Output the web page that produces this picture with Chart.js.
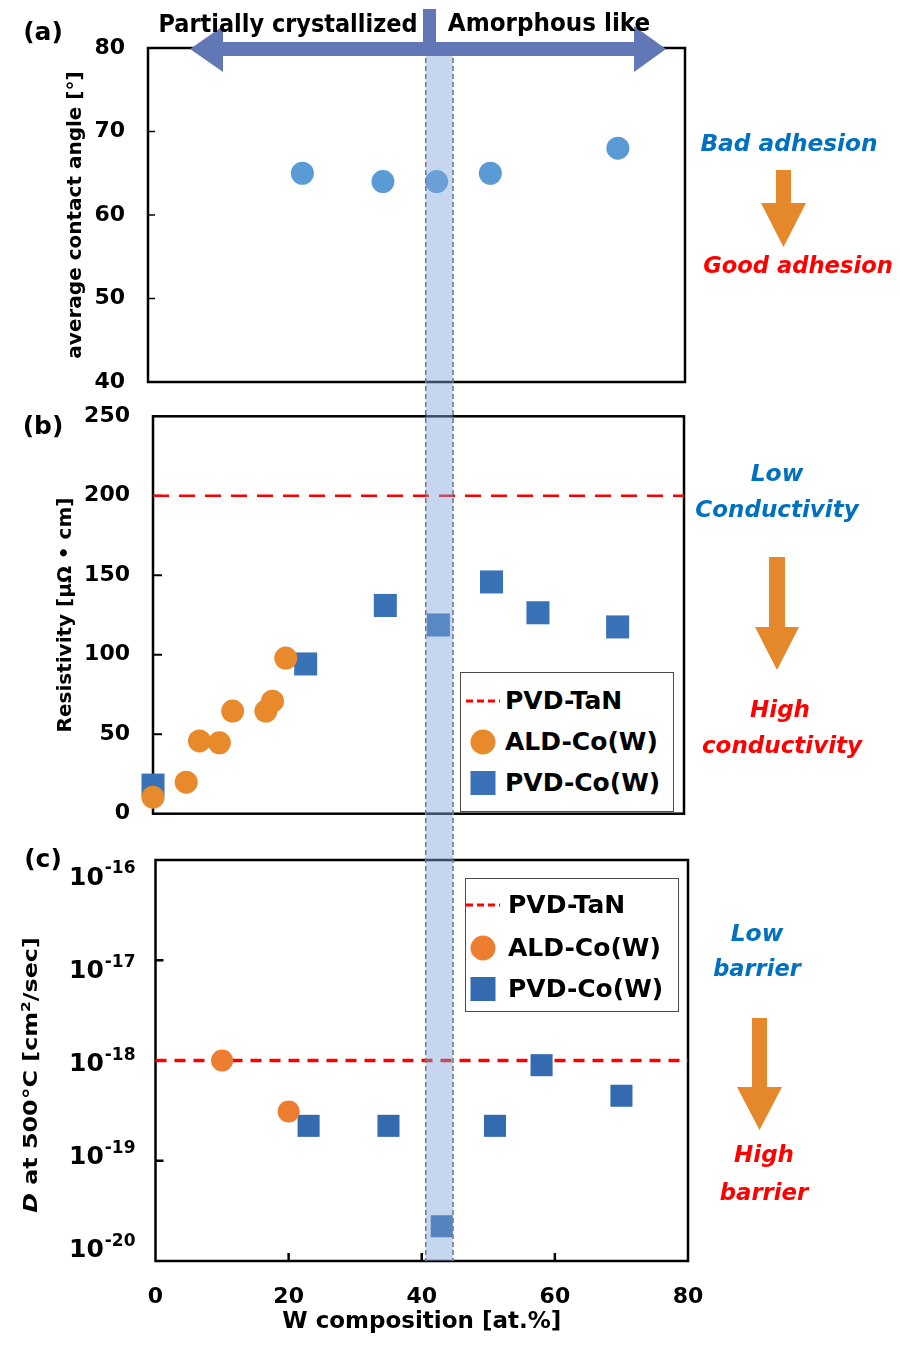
<!DOCTYPE html>
<html>
<head>
<meta charset="utf-8">
<script src="https://cdn.jsdelivr.net/npm/chart.js@4.4.1/dist/chart.umd.min.js"></script>
<style>
    body { margin: 0; background: #fff; width: 900px; height: 1347px; position: relative; overflow: hidden; font-family: 'DejaVu Sans', sans-serif; }
    canvas { position: absolute; left: 0; z-index: 1; }
    #overlay { position: absolute; left: 0; top: 0; z-index: 2; pointer-events: none; }
    .txt { position: absolute; white-space: nowrap; font-weight: bold; line-height: 1; z-index: 4; }
    .txt sup { font-size: 0.65em; vertical-align: 0.55em; line-height: 0; }
    .legend { position: absolute; background: #fff; border: 1.5px solid #4a4a4a; z-index: 3; box-sizing: border-box; }
    .legend-row { position: absolute; left: 0; height: 30px; line-height: 30px; font-weight: bold; font-size: 25px; color: #000; white-space: nowrap; }
    .legend-row svg { position: absolute; top: 0; }
</style>
</head>
<body>
<canvas id="chartA" width="900" height="400" style="top:0"></canvas>
<canvas id="chartB" width="900" height="430" style="top:400px"></canvas>
<canvas id="chartC" width="900" height="517" style="top:830px"></canvas>
<svg id="overlay" width="900" height="1347"></svg>

<script>
// ---- data (W composition in at.%) ----
const ANGLE_W   = [23, 35, 43, 51, 70];
const ANGLE_DEG = [65, 64, 64, 65, 68];

const RES_ALD_W   = [0, 5, 7, 10, 12, 17, 18, 20];
const RES_ALD_VAL = [10.4, 19.8, 45.8, 44.6, 64.6, 64.6, 70.8, 97.9];
const RES_PVD_W   = [0, 23, 35, 43, 51, 58, 70];
const RES_PVD_VAL = [18, 94.2, 131, 118.7, 145.8, 126.4, 117.5];
const RES_TAN     = 200;

const D_ALD_W   = [10, 20];
const D_ALD_VAL = [1.0e-18, 3.1e-19];
const D_PVD_W   = [23, 35, 43, 51, 58, 70];
const D_PVD_VAL = [2.23e-19, 2.23e-19, 2.22e-20, 2.23e-19, 8.98e-19, 4.45e-19];
const D_TAN     = 1e-18;
const D_TICK_EXP = [-20, -19, -18, -17, -16];

const X_RANGE = [0, 80];
const BAND_X  = [40.6, 44.7];   // highlighted composition window

const COLORS = {
    angle: '#5B9BD5',
    aldB: '#E8892B',
    aldC: '#ED7D31',
    pvdB: '#3A72B8',
    pvdC: '#346AAF',
    tan: '#FF0000',
    blue: '#0070C0',
    red: '#FF0000',
    orange: '#E4882B',
    bigArrow: '#6177B6'
};

Chart.defaults.font.family = "'DejaVu Sans', sans-serif";
Chart.defaults.color = '#000';

const pts = (xs, ys) => xs.map((x, i) => ({ x, y: ys[i] }));

// box + inward tick marks, drawn under the points
const frame = {
    id: 'frame',
    beforeDatasetsDraw(chart, args, opts) {
        const { ctx, chartArea: a, scales } = chart;
        ctx.save();
        ctx.strokeStyle = '#000';
        ctx.lineWidth = opts.tickWidth;
        (opts.yTicks || []).forEach(v => {
            const y = scales.y.getPixelForValue(v);
            ctx.beginPath(); ctx.moveTo(a.left, y); ctx.lineTo(a.left + opts.tickLen, y); ctx.stroke();
        });
        (opts.xTicks || []).forEach(v => {
            const x = scales.x.getPixelForValue(v);
            ctx.beginPath(); ctx.moveTo(x, a.bottom); ctx.lineTo(x, a.bottom - opts.tickLen); ctx.stroke();
        });
        ctx.lineWidth = opts.lineWidth;
        ctx.strokeRect(a.left, a.top, a.right - a.left, a.bottom - a.top);
        ctx.restore();
    }
};

// 10^n labels for the log axis
const powerLabels = {
    id: 'powerLabels',
    afterDraw(chart) {
        const { ctx, chartArea: a, scales: { y } } = chart;
        const mid = y.getPixelForValue(D_TAN);
        const right = a.left - 20;
        ctx.save();
        ctx.fillStyle = '#000';
        ctx.textBaseline = 'middle';
        D_TICK_EXP.forEach(e => {
            const py = y.getPixelForValue(Math.pow(10, e));
            const ly = mid + (py - mid) * 0.93 + 4;
            const sup = String(e);
            ctx.font = "bold 17px 'DejaVu Sans'";
            const sw = ctx.measureText(sup).width;
            ctx.textAlign = 'left';
            ctx.fillText(sup, right - sw, ly - 9);
            ctx.font = "bold 25px 'DejaVu Sans'";
            ctx.textAlign = 'right';
            ctx.fillText('10', right - sw - 1, ly);
        });
        ctx.restore();
    }
};

// fixed axis box so the plot frame lands where it should
function fixAxis(size) {
    return s => {
        if (s.isHorizontal()) s.height = size; else s.width = size;
        s.paddingTop = s.paddingBottom = s.paddingLeft = s.paddingRight = 0;
    };
}

function baseOptions(pad, yWidth) {
    return {
        responsive: false,
        animation: false,
        events: [],
        layout: { padding: pad },
        plugins: { legend: { display: false }, tooltip: { enabled: false } },
        scales: {
            x: {
                type: 'linear', min: X_RANGE[0], max: X_RANGE[1], display: false,
                grid: { display: false, drawTicks: false }, border: { display: false }
            },
            y: {
                afterFit: fixAxis(yWidth),
                grid: { display: false, drawTicks: false }, border: { display: false },
                ticks: { font: { size: 22, weight: 'bold' }, color: '#000', padding: 23 }
            }
        }
    };
}

function scatterSet(label, data, color, style, radius) {
    return {
        type: 'scatter', label, data,
        pointStyle: style, pointRadius: radius, pointHoverRadius: radius,
        pointBackgroundColor: color, pointBorderColor: color, pointBorderWidth: 0,
        clip: false
    };
}

function tanSet(level, dash, width) {
    return {
        type: 'line', label: 'PVD-TaN',
        data: [{ x: X_RANGE[0], y: level }, { x: X_RANGE[1], y: level }],
        borderColor: COLORS.tan, borderDash: dash, borderWidth: width,
        pointRadius: 0, clip: false
    };
}

// ---- panel (a) ----
const optsA = baseOptions({ left: 0, right: 215, top: 48, bottom: 18 }, 148);
Object.assign(optsA.scales.y, {
    min: 40, max: 80,
    title: { display: true, text: 'average contact angle [°]', font: { size: 20, weight: 'bold' }, color: '#000', padding: { top: 64, bottom: 0 } }
});
optsA.scales.y.ticks.stepSize = 10;
optsA.plugins.frame = { lineWidth: 2.5, tickWidth: 1.5, tickLen: 7, yTicks: [50, 60, 70] };

const chartA = new Chart(document.getElementById('chartA'), {
    type: 'scatter',
    data: { datasets: [scatterSet('contact angle', pts(ANGLE_W, ANGLE_DEG), COLORS.angle, 'circle', 11.5)] },
    options: optsA,
    plugins: [frame]
});

// ---- panel (b) ----
const optsB = baseOptions({ left: 0, right: 216, top: 14, bottom: 16 }, 153);
Object.assign(optsB.scales.y, {
    min: 0, max: 250,
    title: { display: true, text: 'Resistivity [μΩ • cm]', font: { size: 20, weight: 'bold' }, color: '#000', padding: { top: 54, bottom: 0 } }
});
optsB.scales.y.ticks.stepSize = 50;
optsB.plugins.frame = { lineWidth: 2.5, tickWidth: 2, tickLen: 9, yTicks: [50, 100, 150, 200] };

const datasetsB = [
    scatterSet('ALD-Co(W)', pts(RES_ALD_W, RES_ALD_VAL), COLORS.aldB, 'circle', 11.5),
    scatterSet('PVD-Co(W)', pts(RES_PVD_W, RES_PVD_VAL), COLORS.pvdB, 'rect', 16.3),
    tanSet(RES_TAN, [16, 10], 2.5)
];
const chartB = new Chart(document.getElementById('chartB'), {
    type: 'scatter',
    data: { datasets: datasetsB },
    options: optsB,
    plugins: [frame]
});

// ---- panel (c) ----
const optsC = baseOptions({ left: 0, right: 212, top: 30, bottom: 0 }, 155.5);
Object.assign(optsC.scales.x, {
    display: true,
    afterFit: fixAxis(86),
    ticks: { stepSize: 20, font: { size: 22, weight: 'bold' }, color: '#000', padding: 23 },
    title: { display: true, text: 'W composition [at.%]', font: { size: 23, weight: 'bold' }, color: '#000', padding: { top: 0, bottom: 11 } }
});
Object.assign(optsC.scales.y, { type: 'logarithmic', min: 1e-20, max: 1e-16 });
optsC.scales.y.ticks = { display: false };
optsC.plugins.frame = { lineWidth: 2.5, tickWidth: 2.5, tickLen: 8, yTicks: [1e-19, 1e-18, 1e-17], xTicks: [20, 40, 60] };

const datasetsC = [
    scatterSet('ALD-Co(W)', pts(D_ALD_W, D_ALD_VAL), COLORS.aldC, 'circle', 11),
    scatterSet('PVD-Co(W)', pts(D_PVD_W, D_PVD_VAL), COLORS.pvdC, 'rect', 15.6),
    tanSet(D_TAN, [11, 8], 3.5)
];
const chartC = new Chart(document.getElementById('chartC'), {
    type: 'scatter',
    data: { datasets: datasetsC },
    options: optsC,
    plugins: [frame, powerLabels]
});

// ---- legends ----
function generateLegend(box, datasets, rows) {
    const el = document.createElement('div');
    el.className = 'legend';
    Object.assign(el.style, { left: box.x + 'px', top: box.y + 'px', width: box.w + 'px', height: box.h + 'px' });
    const order = ['PVD-TaN', 'ALD-Co(W)', 'PVD-Co(W)'];
    order.forEach((name, i) => {
        const ds = datasets.find(d => d.label === name);
        const row = document.createElement('div');
        row.className = 'legend-row';
        row.style.top = (rows.y[i] - 15) + 'px';
        let icon;
        if (ds.type === 'line') {
            icon = `<svg width="36" height="30" style="left:${rows.iconX - 18}px"><line x1="1" y1="15" x2="35" y2="15" stroke="${ds.borderColor}" stroke-width="3" stroke-dasharray="7,4"/></svg>`;
        } else if (ds.pointStyle === 'circle') {
            icon = `<svg width="30" height="30" style="left:${rows.iconX - 15}px"><circle cx="15" cy="15" r="12.5" fill="${ds.pointBackgroundColor}"/></svg>`;
        } else {
            icon = `<svg width="30" height="30" style="left:${rows.iconX - 15}px"><rect x="2.5" y="3" width="25" height="24" fill="${ds.pointBackgroundColor}"/></svg>`;
        }
        row.innerHTML = icon + `<span style="position:absolute;left:${rows.textX}px">${ds.label}</span>`;
        el.appendChild(row);
    });
    document.body.appendChild(el);
}

generateLegend({ x: 460, y: 672, w: 214, h: 140 }, datasetsB, { y: [28, 69, 110], iconX: 22, textX: 44 });
generateLegend({ x: 465, y: 878, w: 214, h: 134 }, datasetsC, { y: [26, 69, 110], iconX: 17, textX: 42 });

// ---- overlay: highlight band and arrows ----
function drawOverlay() {
    const svg = document.getElementById('overlay');
    const x0 = chartC.scales.x.getPixelForValue(BAND_X[0]);
    const x1 = chartC.scales.x.getPixelForValue(BAND_X[1]);
    const top = 50;
    const bottom = 830 + chartC.chartArea.bottom;
    const downArrow = (cx, y0, y1, tip, shaftW, headW) =>
        `<polygon fill="${COLORS.orange}" points="${cx - shaftW / 2},${y0} ${cx + shaftW / 2},${y0} ${cx + shaftW / 2},${y1} ${cx + headW / 2},${y1} ${cx},${tip} ${cx - headW / 2},${y1} ${cx - shaftW / 2},${y1}"/>`;
    svg.innerHTML = `
        <rect x="${x0}" y="${top}" width="${x1 - x0}" height="${bottom - top}" fill="rgba(128,164,217,0.45)"/>
        <line x1="${x0}" y1="${top}" x2="${x0}" y2="${bottom}" stroke="#6d7785" stroke-width="1.5" stroke-dasharray="5,3"/>
        <line x1="${x1}" y1="${top}" x2="${x1}" y2="${bottom}" stroke="#6d7785" stroke-width="1.5" stroke-dasharray="5,3"/>
        <polygon fill="${COLORS.bigArrow}" points="190,49 223,26 223,42 634,42 634,26 666,49 634,72 634,56 223,56 223,72"/>
        <rect x="423" y="9" width="13" height="40" fill="${COLORS.bigArrow}"/>
        ${downArrow(783.5, 170, 203, 247, 15, 45)}
        ${downArrow(777, 557, 627, 670, 16, 44)}
        ${downArrow(759.5, 1018, 1087, 1130, 15, 45)}
    `;
}
drawOverlay();

// ---- text annotations ----
const LABELS = [
    { html: '(a)', x: 43, y: 31, size: 25 },
    { html: '(b)', x: 43, y: 425, size: 25 },
    { html: '(c)', x: 43, y: 858, size: 25 },
    { html: 'Partially crystallized', x: 287.5, y: 24, size: 24, w: 259 },
    { html: 'Amorphous like', x: 549, y: 23, size: 24, w: 202 },
    { html: 'Bad adhesion', x: 788.5, y: 143, size: 23, w: 177, color: COLORS.blue, italic: true },
    { html: 'Good adhesion', x: 798, y: 265, size: 23, w: 190, color: COLORS.red, italic: true },
    { html: 'Low', x: 777, y: 473, size: 23, w: 53, color: COLORS.blue, italic: true },
    { html: 'Conductivity', x: 777, y: 509, size: 23, w: 163, color: COLORS.blue, italic: true },
    { html: 'High', x: 780, y: 709, size: 23, w: 60, color: COLORS.red, italic: true },
    { html: 'conductivity', x: 782, y: 745, size: 23, w: 160, color: COLORS.red, italic: true },
    { html: 'Low', x: 757, y: 933, size: 23, w: 53, color: COLORS.blue, italic: true },
    { html: 'barrier', x: 757, y: 968, size: 23, w: 88, color: COLORS.blue, italic: true },
    { html: 'High', x: 764, y: 1154, size: 23, w: 60, color: COLORS.red, italic: true },
    { html: 'barrier', x: 764, y: 1192, size: 23, w: 89, color: COLORS.red, italic: true },
    { html: '<i>D</i> at 500°C [cm<sup>2</sup>/sec]', x: 30, y: 1075, size: 20, w: 276, rot: -90 }
];

function placeText(t) {
    const el = document.createElement('div');
    el.className = 'txt';
    el.innerHTML = t.html;
    Object.assign(el.style, {
        left: t.x + 'px', top: t.y + 'px', fontSize: t.size + 'px',
        color: t.color || '#000', fontStyle: t.italic ? 'italic' : 'normal'
    });
    document.body.appendChild(el);
    const k = t.w ? t.w / el.offsetWidth : 1;
    el.style.transform = `translate(-50%, -50%) rotate(${t.rot || 0}deg) scaleX(${k})`;
}
LABELS.forEach(placeText);
</script>
</body>
</html>
